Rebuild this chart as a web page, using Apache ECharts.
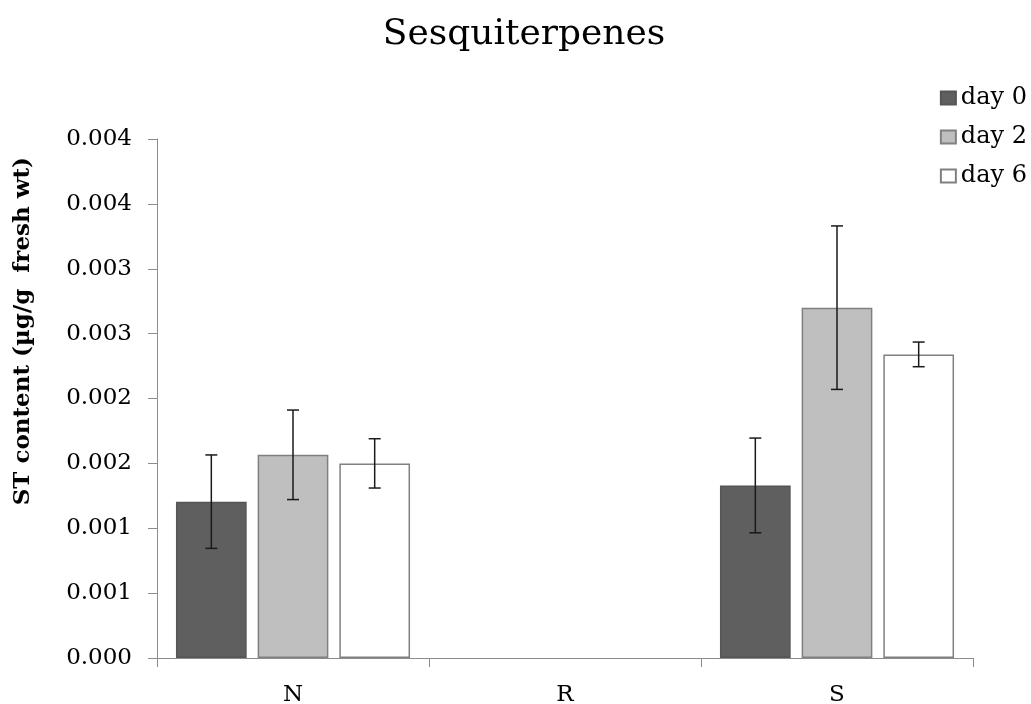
<!DOCTYPE html>
<html>
<head>
<meta charset="utf-8">
<script src="https://cdn.jsdelivr.net/npm/echarts@6/dist/echarts.min.js"></script>
<style>
html,body{margin:0;padding:0;background:#fff;}
#chart{width:1031px;height:704px;}
</style>
</head>
<body>
<div id="chart"></div>
<script>
const categories = ['N', 'R', 'S'];
const seriesNames = ['day 0', 'day 2', 'day 6'];
const day0 = [0.001205, null, 0.00133];
const day2 = [0.001566, null, 0.00270];
const day6 = [0.00150, null, 0.00234];
const err0 = [0.00036, null, 0.000365];
const err2 = [0.000345, null, 0.00063];
const err6 = [0.00019, null, 0.000095];
const yTickLabels = ['0.000', '0.001', '0.001', '0.002', '0.002', '0.003', '0.003', '0.004', '0.004'];

const FONT = '"DejaVu Serif", "Liberation Serif", serif';
const colors = ['#5f5f5f', '#bfbfbf', '#ffffff'];
const borders = ['#555555', '#808080', '#808080'];
const BAR_W = 0.26;   // fraction of band
const BAR_GAP = 0.155; // fraction of bar width
const means = [day0, day2, day6];
const errs = [err0, err2, err6];

const chart = echarts.init(document.getElementById('chart'));

const barSeries = seriesNames.map((name, i) => ({
  name: name,
  type: 'bar',
  data: means[i],
  barWidth: (BAR_W * 100) + '%',
  barGap: (BAR_GAP * 100) + '%',
  itemStyle: { color: colors[i], borderColor: borders[i], borderWidth: 1.5 },
  emphasis: { disabled: true }
}));

const errSeries = seriesNames.map((name, i) => ({
  type: 'custom',
  name: name + ' err',
  silent: true,
  z: 10,
  data: categories.map((c, k) => means[i][k] == null ? null : [k, means[i][k], errs[i][k]]).filter(d => d),
  encode: { x: 0, y: 1 },
  renderItem: function (params, api) {
    const k = api.value(0);
    const m = api.value(1);
    const e = api.value(2);
    const band = api.size([1, 0])[0];
    const w = band * BAR_W;
    const off = (i - 1) * (w + w * BAR_GAP);
    const lo = api.coord([k, m - e]);
    const hi = api.coord([k, m + e]);
    const x = lo[0] + off;
    const cap = 6;
    const st = { stroke: '#1a1a1a', lineWidth: 1.5 };
    return {
      type: 'group',
      children: [
        { type: 'line', shape: { x1: x, y1: lo[1], x2: x, y2: hi[1] }, style: st },
        { type: 'line', shape: { x1: x - cap, y1: lo[1], x2: x + cap, y2: lo[1] }, style: st },
        { type: 'line', shape: { x1: x - cap, y1: hi[1], x2: x + cap, y2: hi[1] }, style: st }
      ]
    };
  }
}));

chart.setOption({
  backgroundColor: '#ffffff',
  animation: false,
  title: {
    text: 'Sesquiterpenes',
    left: 519,
    textAlign: 'center',
    top: 12,
    textStyle: { fontFamily: FONT, fontSize: 36, fontWeight: 'normal', color: '#000' }
  },
  legend: {
    data: seriesNames,
    orient: 'vertical',
    right: 4,
    top: 86,
    padding: 0,
    itemWidth: 15,
    itemHeight: 13,
    itemGap: 15,
    icon: 'rect',
    textStyle: { fontFamily: FONT, fontSize: 24, color: '#000', lineHeight: 24 }
  },
  grid: { left: 157, right: 58, top: 139, bottom: 46, containLabel: false, outerBoundsMode: 'none' },
  xAxis: {
    type: 'category',
    data: categories,
    axisLine: { lineStyle: { color: '#8c8c8c', width: 1 } },
    axisTick: { show: true, length: 9, alignWithLabel: false, lineStyle: { color: '#8c8c8c' } },
    axisLabel: { margin: 26, fontFamily: FONT, fontSize: 23, color: '#000' },
    splitLine: { show: false }
  },
  yAxis: {
    type: 'value',
    min: 0,
    max: 0.004,
    interval: 0.0005,
    axisLine: { show: true, lineStyle: { color: '#8c8c8c', width: 1 } },
    axisTick: { show: true, length: 9, lineStyle: { color: '#8c8c8c' } },
    axisLabel: {
      margin: 25,
      fontFamily: FONT,
      fontSize: 23,
      color: '#000',
      formatter: function (v, idx) { return yTickLabels[Math.round(v / 0.0005)]; }
    },
    splitLine: { show: false }
  },
  graphic: [{
    type: 'text',
    left: 12,
    top: 157,
    style: {
      text: 'ST content (µg/g  fresh wt)',
      font: 'bold 23px ' + FONT,
      fill: '#000'
    },
    rotation: Math.PI / 2,
    originX: 0, originY: 0
  }],
  series: barSeries.concat(errSeries)
});
</script>
</body>
</html>
